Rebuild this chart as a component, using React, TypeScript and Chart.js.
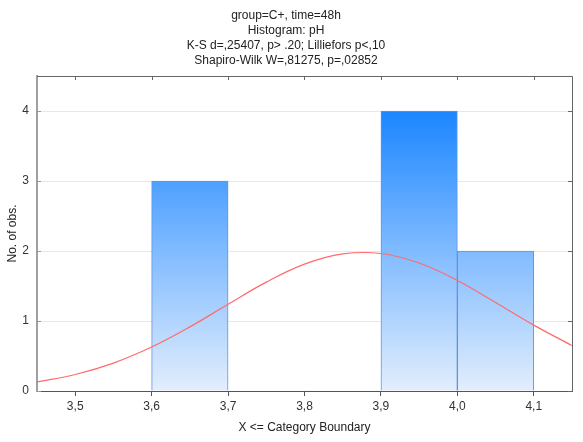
import React, { useEffect, useRef } from "react";
import { Chart, registerables } from "chart.js";

Chart.register(...registerables);

const titleLines = [
  "group=C+, time=48h",
  "Histogram: pH",
  "K-S d=,25407, p> .20; Lilliefors p<,10",
  "Shapiro-Wilk W=,81275, p=,02852",
];

const binCenters = [3.65, 3.75, 3.85, 3.95, 4.05];
const binCounts = [3, 0, 0, 4, 2];

const curveX = [3.45, 3.5, 3.55, 3.6, 3.65, 3.7, 3.75, 3.8, 3.85, 3.9, 3.95, 4.0, 4.05, 4.1, 4.15];
const curveY = [0.129, 0.236, 0.399, 0.628, 0.916, 1.239, 1.555, 1.812, 1.958, 1.964, 1.828, 1.579, 1.265, 0.941, 0.649];

const xTicks = [3.5, 3.6, 3.7, 3.8, 3.9, 4.0, 4.1];
const yTicks = [0, 1, 2, 3, 4];

const FONT = "'Liberation Sans', Arial, sans-serif";

const framePlugin = {
  id: "frame",
  afterDraw(chart: any) {
    const { ctx, chartArea } = chart;
    const { left, right, top, bottom } = chartArea;
    const xs = chart.scales.x;
    const ys = chart.scales.y;
    ctx.save();
    ctx.strokeStyle = "#666666";
    ctx.lineWidth = 1;
    ctx.beginPath();
    ctx.moveTo(left, top + 0.5);
    ctx.lineTo(right + 0.5, top + 0.5);
    ctx.lineTo(right + 0.5, bottom);
    ctx.stroke();
    ctx.beginPath();
    for (const v of xTicks) {
      const px = Math.round(xs.getPixelForValue(v)) + 0.5;
      ctx.moveTo(px, top);
      ctx.lineTo(px, top + 4);
    }
    for (const v of yTicks) {
      const py = Math.round(ys.getPixelForValue(v)) + 0.5;
      ctx.moveTo(right, py);
      ctx.lineTo(right - 4, py);
    }
    ctx.stroke();
    ctx.strokeStyle = "#999999";
    ctx.beginPath();
    for (const v of yTicks) {
      const py = Math.round(ys.getPixelForValue(v)) + 0.5;
      ctx.moveTo(left, py);
      ctx.lineTo(left + 4, py);
    }
    ctx.stroke();
    ctx.restore();
  },
};

export default function App() {
  const ref = useRef<HTMLCanvasElement | null>(null);

  useEffect(() => {
    document.body.style.margin = "0";
    const canvas = ref.current;
    if (!canvas) return;

    const barFill = (c: any) => {
      const chart = c.chart;
      const area = chart.chartArea;
      if (!area) return "#5aa8ff";
      const ys = chart.scales.y;
      const g = chart.ctx.createLinearGradient(0, ys.getPixelForValue(4), 0, ys.getPixelForValue(0));
      g.addColorStop(0, "#1b86ff");
      g.addColorStop(0.5, "#80bbff");
      g.addColorStop(1, "#e2eefc");
      return g;
    };

    const chart = new Chart(canvas, {
      type: "bar",
      data: {
        datasets: [
          {
            type: "line",
            data: curveX.map((x, i) => ({ x, y: curveY[i] })),
            borderColor: "#ff6b6b",
            borderWidth: 1.2,
            pointRadius: 0,
            tension: 0.4,
            fill: false,
            order: 0,
          } as any,
          {
            type: "bar",
            data: binCenters.map((x, i) => ({ x, y: binCounts[i] })),
            backgroundColor: barFill,
            borderColor: "#5f93e8",
            borderWidth: (c: any) => (c.raw && c.raw.y === 0 ? 0 : 1),
            borderSkipped: "start",
            barPercentage: 1,
            categoryPercentage: 1,
            order: 1,
          } as any,
        ],
      },
      options: {
        responsive: false,
        animation: false,
        layout: { padding: { left: 0, right: 11, top: 0, bottom: 0 } },
        plugins: {
          legend: { display: false },
          tooltip: { enabled: false },
          title: {
            display: true,
            text: titleLines,
            color: "#222222",
            font: { family: FONT, size: 12, weight: "normal", lineHeight: 1.25 },
            padding: { top: 8, bottom: 8 },
          },
        },
        scales: {
          x: {
            type: "linear",
            min: 3.45,
            max: 4.15,
            offset: false,
            afterBuildTicks: (s: any) => {
              s.ticks = xTicks.map((v) => ({ value: v }));
            },
            afterFit: (s: any) => {
              s.height = 51;
            },
            ticks: {
              callback: (v: any) => Number(v).toFixed(1).replace(".", ","),
              color: "#333333",
              font: { family: FONT, size: 12 },
              padding: 3,
              maxRotation: 0,
              autoSkip: false,
            },
            grid: {
              offset: false,
              drawOnChartArea: false,
              drawTicks: true,
              tickLength: 5,
              color: "#555555",
            },
            border: { display: true, color: "#555555", width: 1 },
            title: {
              display: true,
              text: "X <= Category Boundary",
              color: "#222222",
              font: { family: FONT, size: 12 },
              padding: { top: 0, bottom: 7 },
            },
          },
          y: {
            type: "linear",
            min: 0,
            max: 4.5,
            afterBuildTicks: (s: any) => {
              s.ticks = yTicks.map((v) => ({ value: v }));
            },
            afterFit: (s: any) => {
              s.width = 37;
            },
            ticks: {
              callback: (v: any) => String(v),
              color: "#333333",
              font: { family: FONT, size: 12 },
              padding: 8,
            },
            grid: {
              drawTicks: false,
              color: "#e8e8e8",
              lineWidth: 1,
            },
            border: { display: true, color: "#a0a0a0", width: 2 },
            title: {
              display: true,
              text: "No. of obs.",
              color: "#222222",
              font: { family: FONT, size: 12 },
              padding: { top: 5, bottom: 0 },
            },
          },
        },
      } as any,
      plugins: [framePlugin],
    });

    return () => chart.destroy();
  }, []);

  return <canvas ref={ref} width={583} height={442} style={{ display: "block", width: 583, height: 442 }} />;
}
